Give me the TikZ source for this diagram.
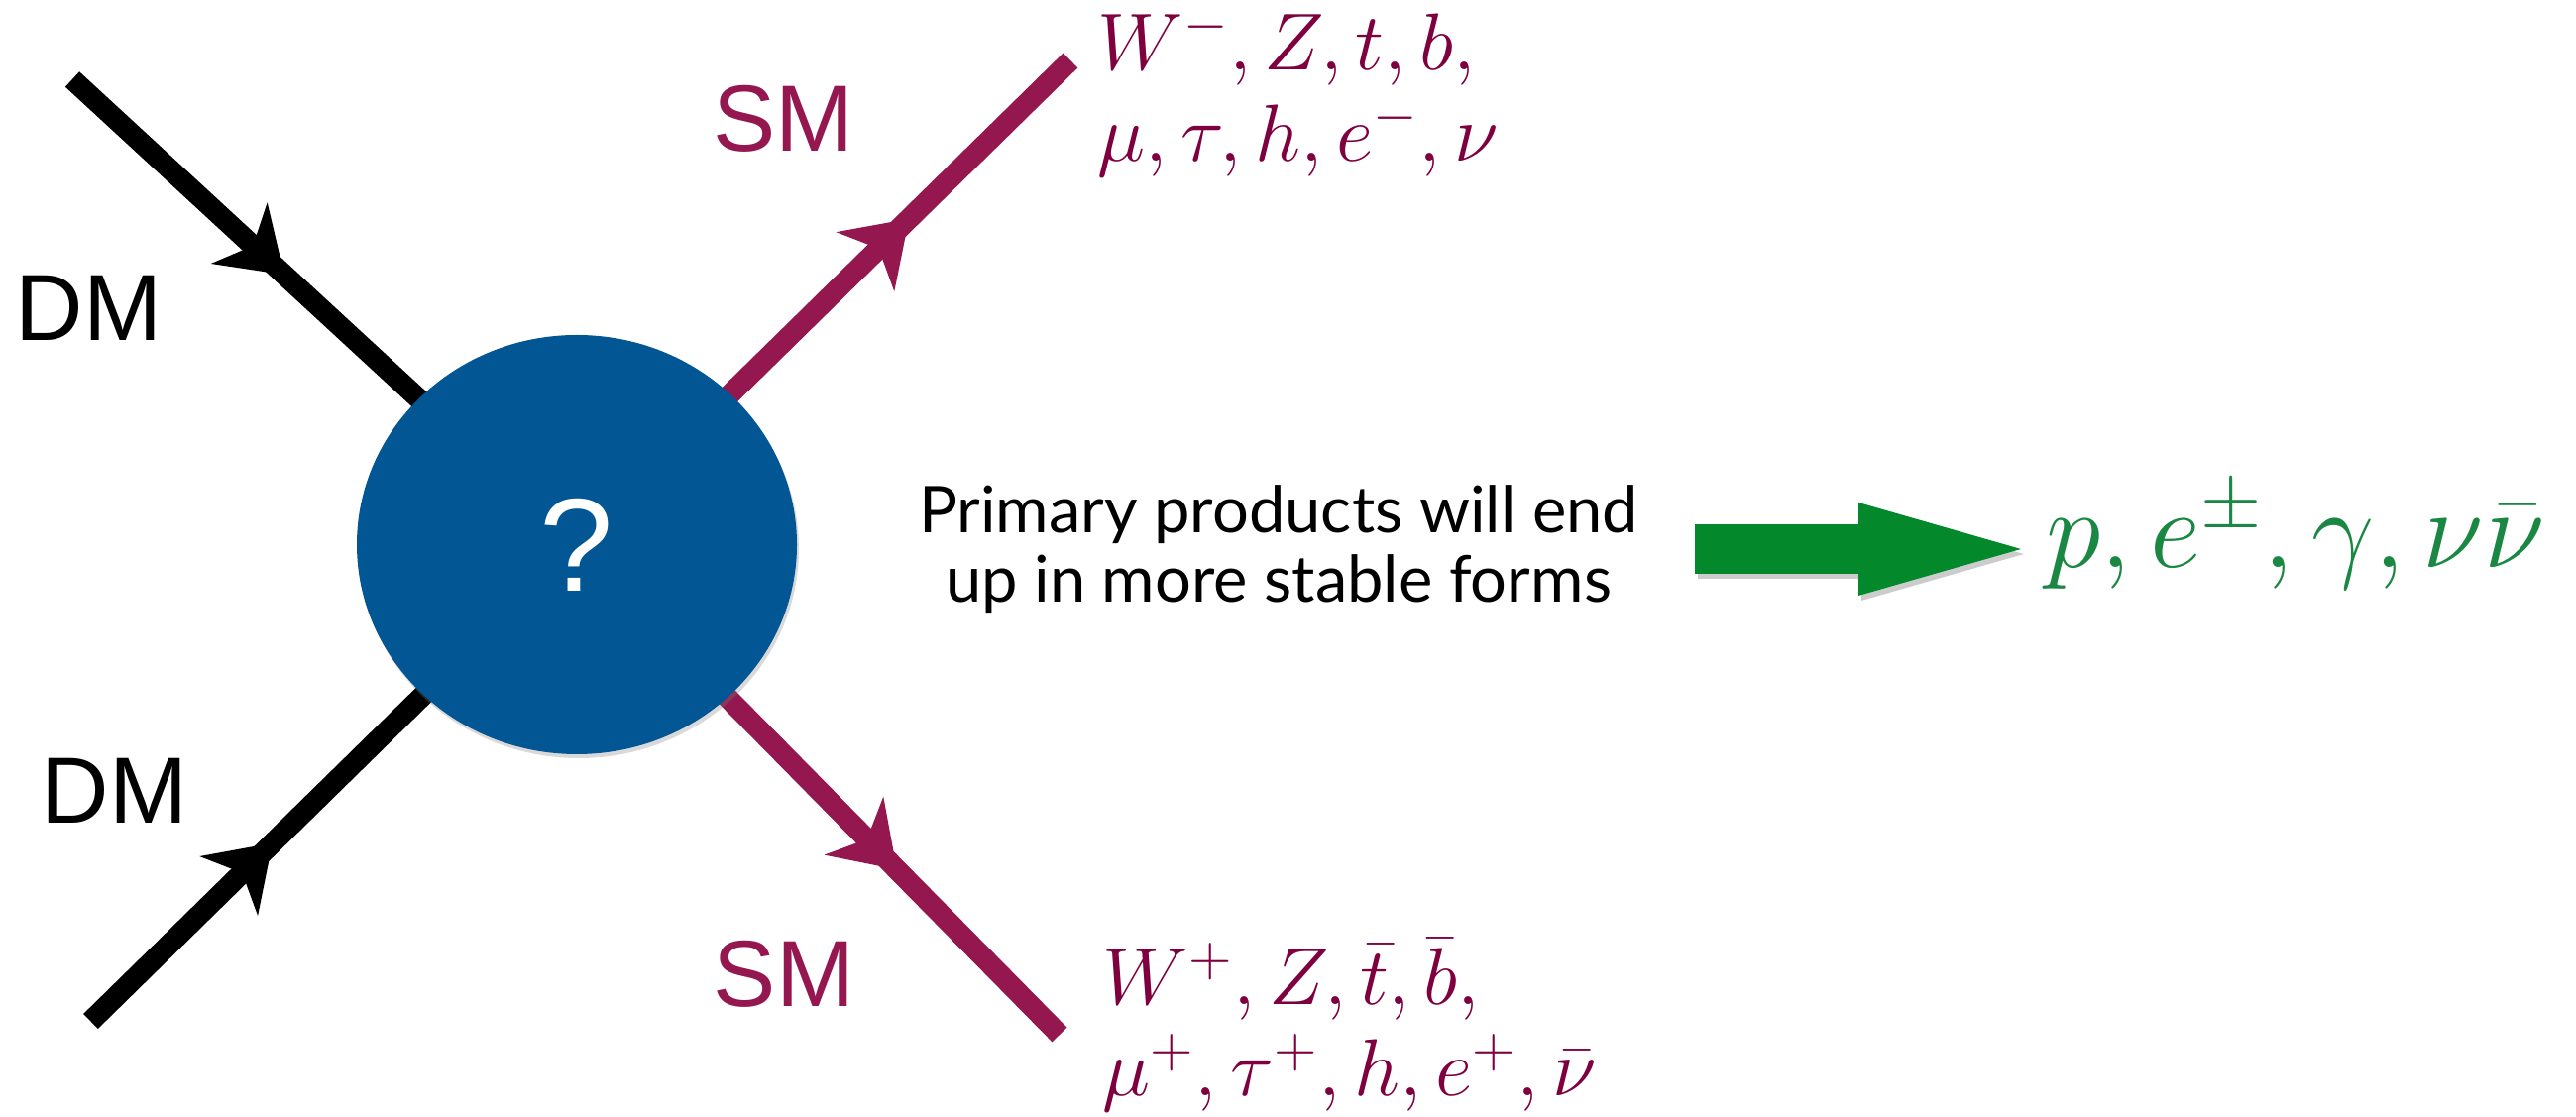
\documentclass[tikz,border=0pt]{standalone}
\usepackage{fix-cm}
\usepackage{amsmath,amssymb}
\usepackage{fontspec}
\usepackage{tikz}
\usetikzlibrary{arrows.meta,positioning,shapes.geometric,shadows,
                backgrounds,decorations.markings}
\newfontfamily\helv{Liberation Sans}
\newfontfamily\avenir{Lato}
\definecolor{BlobBlue}{HTML}{035694}
\definecolor{SMRed}{HTML}{94174F}
\definecolor{SMText}{HTML}{7F003F}
\definecolor{FinalGreen}{HTML}{03892C}
\definecolor{FinalText}{HTML}{1A8743}

\begin{document}
\begin{tikzpicture}[
        blob/.style={ellipse,fill=BlobBlue,minimum width=4.44cm,minimum height=4.23cm,
                     inner sep=0pt,text=white,font=\helv\fontsize{38}{42}\selectfont,
                     drop shadow={shadow xshift=0.02cm,shadow yshift=-0.04cm,opacity=0.3}},
        leg/.style={line width=0.21cm,postaction={decorate},
                    decoration={markings,mark=at position #1 with
                      {\arrow{Stealth[length=0.62cm,width=0.84cm,inset=0.19cm,line width=0pt]}}}},
        dmleg/.style={leg=#1,black},
        smleg/.style={leg=#1,SMRed},
        tag/.style={inner sep=0pt,font=\helv\fontsize{27}{30}\selectfont},
        prod/.style={inner sep=0pt,anchor=base west,align=left,text=SMText,
                     font=\fontsize{23.2}{26.2}\selectfont},
        bigarrow/.style={line width=0.5cm,FinalGreen,
                         -{Triangle[length=1.64cm,width=0.94cm,line width=0pt]}}]
        \useasboundingbox (0,0) rectangle (25.99,11.27);
        \coordinate (dmA) at (0.73,10.47);
        \coordinate (dmB) at (0.915,0.965);
        \coordinate (smA) at (10.80,10.66);
        \coordinate (smB) at (10.69,0.83);
        \node[blob] (blob) at (5.82,5.775) {?};
        \begin{scope}[on background layer]
          \draw[dmleg=0.42] (dmA) -- (blob.center);
          \draw[dmleg=0.374] (dmB) -- (blob.center);
          \draw[smleg=0.673] (blob.center) -- (smA);
          \draw[smleg=0.663] (blob.center) -- (smB);
        \end{scope}
        \node[tag] (dmtop) at (0.895,8.165) {DM};
        \node[tag] (dmbot) at (1.155,3.295) {DM};
        \node[tag,text=SMRed] (smtop) at (7.905,10.07) {SM};
        \node[tag,text=SMRed] (smbot) at (7.91,1.44) {SM};
        % anchor is the baseline of the last line
        \node[prod] (outA) at (11.07,9.64)
          {$W^-, Z, t, b,$\\$\mu, \tau, h, e^-, \nu$};
        \node[prod] (outB) at (11.12,0.21)
          {$W^+, Z, \bar{t}, \bar{b},$\\$\mu^+, \tau^+, h, e^+, \bar{\nu}$};
        \node[align=center,inner sep=0pt,font=\avenir\fontsize{18.5}{19.9}\selectfont]
          (note) at (12.9,5.73) {Primary products will end\\up in more stable forms};
        \node[anchor=base west,inner sep=0pt,text=FinalText,font=\fontsize{32}{35}\selectfont]
          (final) at (20.64,5.54) {$p, e^{\pm}, \gamma, \nu\bar{\nu}$};
        \draw[bigarrow,black,opacity=0.2] ([shift={(0.59cm,-0.05cm)}]note.east)
          -- ([shift={(-0.22cm,-0.05cm)}]note.east -| final.west);
        \draw[bigarrow] ([xshift=0.56cm]note.east) -- ([xshift=-0.25cm]note.east -| final.west);
      \end{tikzpicture}
\end{document}
